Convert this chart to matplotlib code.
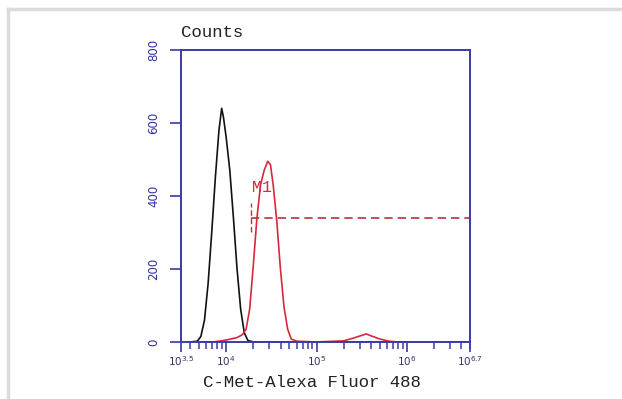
import matplotlib
matplotlib.use("Agg")
import matplotlib.pyplot as plt
from matplotlib.lines import Line2D
import numpy as np

# histogram traces (log10 of intensity, counts)
ctrl_log = [3.60, 3.68, 3.72, 3.76, 3.80, 3.84, 3.88, 3.92, 3.95, 3.97, 4.00, 4.04,
            4.08, 4.12, 4.16, 4.20, 4.24, 4.30, 6.70]
ctrl_counts = [0, 2, 15, 60, 160, 300, 450, 580, 640, 615, 560, 470,
               340, 200, 90, 25, 4, 0, 0]

met_log = [3.60, 3.85, 3.95, 4.05, 4.12, 4.18, 4.22, 4.26, 4.30, 4.34, 4.38, 4.42,
           4.46, 4.49, 4.52, 4.56, 4.60, 4.64, 4.68, 4.72, 4.78, 5.00, 5.30,
           5.40, 5.50, 5.55, 5.60, 5.70, 5.80, 5.90, 6.70]
met_counts = [0, 0, 3, 8, 12, 20, 35, 90, 210, 340, 430, 470,
              495, 485, 430, 330, 200, 95, 35, 8, 2, 0, 3,
              10, 18, 22, 17, 8, 2, 0, 0]

gate_log = [4.27, 6.70]
gate_level = 340
gate_name = "M1"

y_ticks = [0, 200, 400, 600, 800]
x_tick_exps = [3.5, 4, 5, 6, 6.7]
x_tick_labels = ["$10^{3.5}$", "$10^{4}$", "$10^{5}$", "$10^{6}$", "$10^{6.7}$"]

axis_blue = "#3a3aa8"
red = "#d8283c"
mono = ["Liberation Mono", "DejaVu Sans Mono"]

fig = plt.figure(figsize=(6.22, 3.99), dpi=100)
ax = fig.add_axes([0.291, 0.143, 0.465, 0.732])

ax.plot(10 ** np.array(ctrl_log), ctrl_counts, color="#111111", lw=1.2)
ax.plot(10 ** np.array(met_log), met_counts, color=red, lw=1.2)

# gate marker
g0, g1 = 10 ** gate_log[0], 10 ** gate_log[1]
ax.plot([g0, g1], [gate_level, gate_level], color="#c0303c", lw=1.2, ls=(0, (5, 3)))
ax.plot([g0, g0], [gate_level - 40, gate_level + 40], color="#c0303c", lw=1.0, ls=(0, (4, 2)))
ax.text(g0 * 1.04, gate_level + 62, gate_name, color=red, fontsize=12,
        family=mono, va="bottom", ha="left")

ax.set_xscale("log")
ax.set_xlim(10 ** 3.5, 10 ** 6.7)
ax.set_ylim(0, 800)
ax.set_yticks(y_ticks)
ax.set_yticklabels([str(v) for v in y_ticks], rotation=90, va="center",
                   color="#3030a0", fontsize=8.5)
ax.set_xticks([10 ** e for e in x_tick_exps])
ax.set_xticklabels(x_tick_labels, fontsize=7.5, color="#333366")
ax.xaxis.set_minor_locator(matplotlib.ticker.LogLocator(base=10, subs=np.arange(2, 10)))
ax.xaxis.set_minor_formatter(matplotlib.ticker.NullFormatter())

for s in ax.spines.values():
    s.set_color(axis_blue)
    s.set_linewidth(1.4)
ax.tick_params(axis="y", which="major", color=axis_blue, length=8, width=1.2, pad=7)
ax.tick_params(axis="x", which="major", color=axis_blue, length=7, width=1.2, pad=2)
ax.tick_params(axis="x", which="minor", color=axis_blue, length=5, width=1.1)

fig.text(0.502, 0.022, "C-Met-Alexa Fluor 488", family=mono, fontsize=12.5,
         color="#222222", ha="center", va="bottom")
fig.text(0.291, 0.9, "Counts", family=mono, fontsize=12.5,
         color="#222222", ha="left", va="bottom")

# light frame of the screenshot
fig.add_artist(Line2D([0.013, 1.0], [0.977, 0.977], color="#dcdcdc", lw=2.5))
fig.add_artist(Line2D([0.013, 0.013], [0.0, 0.977], color="#dcdcdc", lw=2.5))

fig.savefig("out.png", dpi=100)
